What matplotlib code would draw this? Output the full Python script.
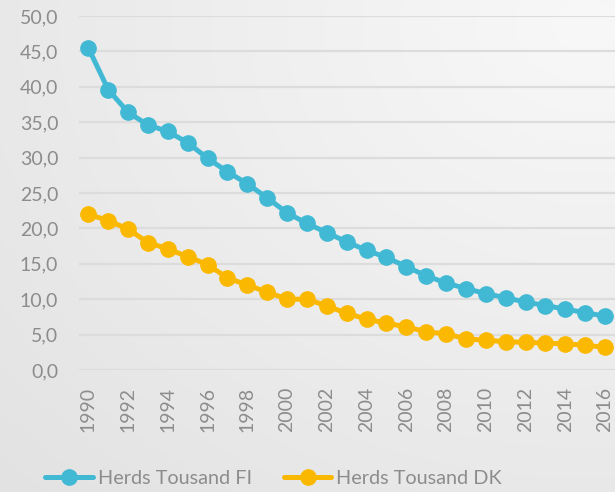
import numpy as np
import matplotlib
matplotlib.use("Agg")
import matplotlib.pyplot as plt

years = list(range(1990, 2017))
herds_fi = [45.5, 39.6, 36.4, 34.6, 33.7, 32.1, 29.9, 28.0, 26.3, 24.3, 22.2, 20.7, 19.4,
            18.1, 16.9, 15.9, 14.6, 13.3, 12.3, 11.5, 10.8, 10.2, 9.6, 9.1, 8.6, 8.1, 7.6]
herds_dk = [22.0, 21.1, 19.9, 18.0, 17.1, 16.0, 14.9, 13.0, 12.0, 11.0, 10.0, 10.0, 9.05,
            8.0, 7.2, 6.6, 6.1, 5.4, 5.1, 4.4, 4.2, 4.0, 3.9, 3.8, 3.7, 3.5, 3.2]
series_names = ["Herds Tousand FI", "Herds Tousand DK"]
colors = ["#42B9D4", "#FBB800"]
y_ticks = list(range(0, 51, 5))
y_tick_labels = [f"{v},0" for v in y_ticks]
x_tick_years = years[::2]

plt.rcParams['font.family'] = ['Lato', 'DejaVu Sans']

fig = plt.figure(figsize=(6.15, 4.92), dpi=100)

# background gradient
bg = fig.add_axes([0, 0, 1, 1], zorder=-10)
H, W = 200, 250
yy, xx = np.mgrid[0:H, 0:W]
cx, cy = W * 0.95, H * 0.05
d = np.sqrt(((xx - cx) / W) ** 2 + ((yy - cy) / H) ** 2)
d = d / d.max()
v = 0.972 - 0.085 * d
img = np.dstack([v, v, v])
bg.imshow(img, aspect='auto', extent=[0, 1, 0, 1], origin='upper')
bg.axis('off')

ax = fig.add_axes([79 / 615, 1 - 370 / 492, (615 - 79) / 615, (370 - 16) / 492])
ax.patch.set_alpha(0)

for vals, name, c in zip([herds_fi, herds_dk], series_names, colors):
    ax.plot(years, vals, color=c, lw=3.6, marker='o', ms=11, label=name,
            solid_capstyle='round', zorder=3)

ax.set_ylim(0, 50)
ax.set_xlim(1989.53, 2016.5)
ax.set_yticks(y_ticks)
ax.set_yticklabels(y_tick_labels)
ax.set_xticks(x_tick_years)
ax.set_xticklabels([str(y) for y in x_tick_years], rotation=90)
ax.tick_params(axis='both', length=0, colors='#8C8C8C', labelsize=14)
ax.tick_params(axis='y', pad=15)
ax.tick_params(axis='x', pad=12)
for s in ax.spines.values():
    s.set_visible(False)
ax.grid(axis='y', color='#DCDCDC', lw=1.6)
ax.set_axisbelow(True)

leg = fig.legend(loc='center', bbox_to_anchor=(0.445, 1 - 478 / 492), ncol=2,
                 frameon=False, fontsize=14.3, handlelength=2.4, handletextpad=0.25,
                 columnspacing=1.6, labelcolor='#8C8C8C')

fig.savefig('out.png', dpi=100)
